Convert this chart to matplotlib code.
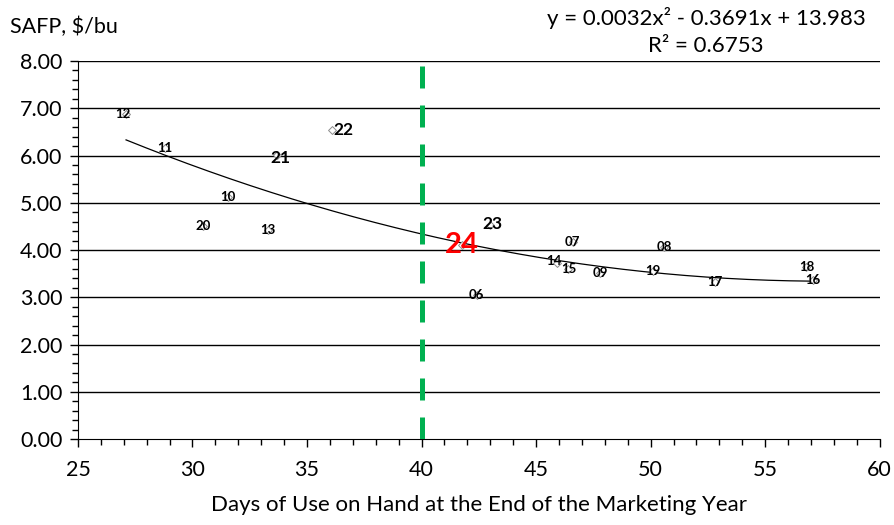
import matplotlib
matplotlib.use('Agg')
import matplotlib.pyplot as plt
from matplotlib.ticker import MultipleLocator, FormatStrFormatter
import numpy as np

plt.rcParams['font.family'] = ['Lato', 'DejaVu Sans']

# Marketing year labels, days of use on hand, season-average farm price
years = ['12', '11', '10', '20', '13', '21', '22', '24', '23', '07',
         '14', '15', '09', '08', '19', '17', '18', '16', '06']
days = [27.1, 28.8, 31.55, 30.45, 33.3, 33.7, 36.1, 41.75, 43.0, 46.6,
        45.9, 46.4, 47.8, 50.6, 50.1, 52.8, 56.8, 57.1, 42.4]
safp = [6.88, 6.16, 5.12, 4.50, 4.43, 6.01, 6.54, 4.10, 4.52, 4.17,
        3.72, 3.60, 3.52, 4.06, 3.55, 3.33, 3.63, 3.36, 3.05]

# Quadratic trendline coefficients (a, b, c) and fit statistic
trend = [0.0032, -0.3691, 13.983]
r_squared = 0.6753
cutoff_days = 40

fig = plt.figure(figsize=(8.94, 5.25), dpi=100)
ax = fig.add_axes([0.0872, 0.1638, 0.8968, 0.7200])

ax.set_xlim(25, 60)
ax.set_ylim(0, 8)

# horizontal gridlines
for v in range(1, 9):
    ax.axhline(v, color='black', lw=1.0, zorder=1)

# trendline over the range of the data
xs = np.linspace(min(days), max(days), 200)
ax.plot(xs, np.polyval(trend, xs), color='black', lw=0.9, zorder=2)

# vertical cutoff
ax.plot([cutoff_days, cutoff_days], [0, 8], color='#00B050', lw=3.6,
        dashes=(4.4, 3.4), zorder=3, solid_capstyle='butt', dash_capstyle='butt')

ax.scatter(days, safp, marker='D', s=16, facecolors='white',
           edgecolors='#8c8c8c', linewidths=0.7, zorder=4)

# label nudges in pixels (right, down)
big = {'21', '22', '23'}
offsets = {'22': (11, 0), '21': (3, 3), '23': (2, -1), '12': (-3, 0),
           '14': (-3, -2), '15': (1, 0)}
for yr, x, y in zip(years, days, safp):
    dx, dy = offsets.get(yr, (0, 0))
    if yr == '24':
        kw = dict(fontsize=21, color='#FF0000')
    elif yr in big:
        kw = dict(fontsize=12.5, color='black')
    else:
        kw = dict(fontsize=9.5, color='black')
    ax.annotate(yr, (x, y), xytext=(dx * 0.72, -dy * 0.72), textcoords='offset points',
                ha='center', va='center', fontweight='bold', zorder=5, **kw)

# axes styling
for s in ['top', 'right']:
    ax.spines[s].set_visible(False)
ax.spines['left'].set_color('black')
ax.spines['bottom'].set_color('black')
ax.xaxis.set_major_locator(MultipleLocator(5))
ax.xaxis.set_minor_locator(MultipleLocator(1))
ax.yaxis.set_major_locator(MultipleLocator(1))
ax.yaxis.set_minor_locator(MultipleLocator(0.2))
ax.yaxis.set_major_formatter(FormatStrFormatter('%.2f'))
ax.tick_params(which='major', length=6, width=1, labelsize=15.5, color='black', pad=5)
ax.tick_params(which='minor', length=4, width=1, color='black')
ax.tick_params(axis='x', pad=9)

ax.set_xlabel('Days of Use on Hand at the End of the Marketing Year',
              fontsize=16, labelpad=11)

fig.text(10 / 894, 1 - 27 / 525, 'SAFP, $/bu', fontsize=15.5, va='center', ha='left')
fig.text(706 / 894, 1 - 18 / 525,
         f'y = {trend[0]:.4f}x\u00b2 - {abs(trend[1]):.4f}x + {trend[2]:.3f}',
         fontsize=16, va='center', ha='center')
fig.text(706 / 894, 1 - 46 / 525, f'R\u00b2 = {r_squared:.4f}',
         fontsize=16, va='center', ha='center')

fig.savefig('out.png', dpi=100, facecolor='white')
